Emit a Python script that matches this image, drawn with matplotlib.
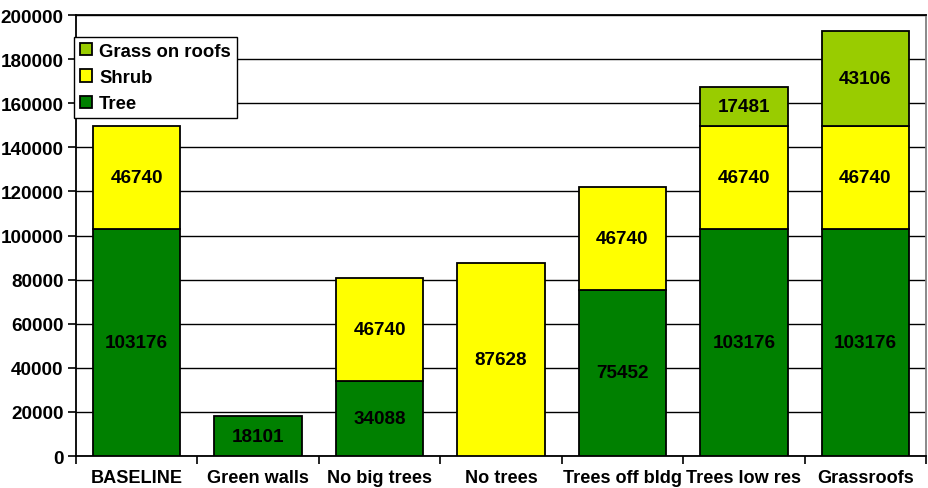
import matplotlib
matplotlib.use("Agg")
import matplotlib.pyplot as plt
import numpy as np

categories = ["BASELINE", "Green walls", "No big trees", "No trees",
              "Trees off bldg", "Trees low res", "Grassroofs"]
tree = [103176, 18101, 34088, 0, 75452, 103176, 103176]
shrub = [46740, 0, 46740, 87628, 46740, 46740, 46740]
grass = [0, 0, 0, 0, 0, 17481, 43106]

series = [("Tree", tree, "#008000"),
          ("Shrub", shrub, "#FFFF00"),
          ("Grass on roofs", grass, "#99CC00")]

plt.rcParams["font.family"] = ["Liberation Sans", "DejaVu Sans"]
plt.rcParams["font.weight"] = "bold"
FS = 13.6

fig = plt.figure(figsize=(9.29, 4.89), dpi=100)
ax = fig.add_axes([0.0818, 0.0654, 0.9150, 0.9016])

x = np.arange(len(categories))
bottom = np.zeros(len(categories))
handles = []
for name, vals, color in series:
    vals = np.array(vals, dtype=float)
    mask = vals > 0
    b = ax.bar(x[mask], vals[mask], bottom=bottom[mask], width=0.72,
               color=color, edgecolor="black", linewidth=1.3, label=name,
               zorder=3)
    handles.append(b)
    for xi, v, b0 in zip(x[mask], vals[mask], bottom[mask]):
        ax.text(xi, b0 + v / 2, f"{int(v)}", ha="center", va="center",
                fontsize=FS, fontweight="bold", zorder=4)
    bottom = bottom + vals

ax.set_xlim(-0.5, len(categories) - 0.5)
ax.set_ylim(0, 200000)
ax.set_yticks(np.arange(0, 200001, 20000))
ax.set_xticks(np.arange(-0.5, len(categories), 1.0))
ax.set_xticklabels([])
ax.set_xticks(x, minor=True)
ax.set_xticklabels(categories, minor=True)
ax.tick_params(axis="x", which="minor", length=0, pad=9, labelsize=13.1)
ax.tick_params(axis="x", which="major", length=6, direction="out", width=1.2)
ax.tick_params(axis="y", length=6, direction="out", width=1.2, labelsize=FS, pad=3)
for lbl in ax.get_xticklabels(minor=True) + ax.get_yticklabels():
    lbl.set_fontweight("bold")

ax.yaxis.grid(True, color="black", linewidth=1.0, zorder=0)
ax.set_axisbelow(True)
for side in ["left", "bottom", "top"]:
    ax.spines[side].set_linewidth(1.3)
    ax.spines[side].set_color("black")
ax.spines["right"].set_color("#808080")
ax.spines["right"].set_linewidth(1.3)

leg = ax.legend(handles=handles[::-1], loc="upper left",
                bbox_to_anchor=(-0.002, 0.95), frameon=True, fancybox=False,
                edgecolor="black", framealpha=1, fontsize=13.3,
                handlelength=0.65, handleheight=0.65, handletextpad=0.4,
                borderpad=0.3, labelspacing=0.5, borderaxespad=0)
leg.get_frame().set_linewidth(1.0)
leg.set_zorder(5)

fig.savefig("out.png", dpi=100)
